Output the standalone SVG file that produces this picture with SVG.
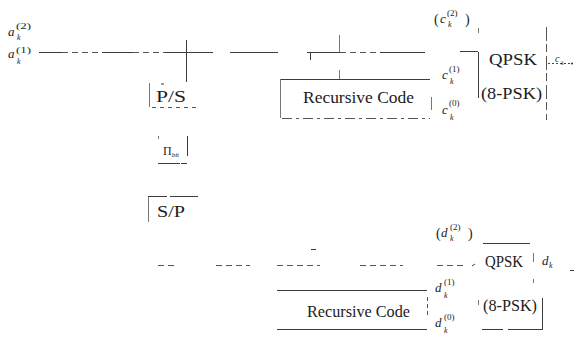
<svg xmlns="http://www.w3.org/2000/svg" width="576" height="340" viewBox="0 0 576 340">
<style>
.ln{stroke:#3c3c3c;stroke-width:1;fill:none}
.lt{stroke:#777;stroke-width:1;fill:none}
.dsh{stroke:#555;stroke-width:1;fill:none;stroke-dasharray:6 4}
.dot{stroke:#444;stroke-width:1;fill:none;stroke-dasharray:2 2}
text{font-family:'Liberation Serif','Times New Roman','DejaVu Serif',serif;fill:#1c1c1c}
.t{font-size:16px}
.m{font-style:italic;font-size:13px}
.s{font-size:9px}
.si{font-style:italic;font-size:8px}
.p{font-size:14px}
</style>

<g id="connectors">
  <path class="ln" d="M39 52.5H62M102 52.5H133M165 52.5H213M230 52.5H278M307 52.5H340M380 52.5H425"/>
  <path class="dsh" d="M62 52.5H100M133 52.5H165M340 52.5H380"/>
  <path class="ln" d="M186.5 40V82"/>
  <path class="ln" d="M310.5 52V60"/>
  <path class="lt" d="M339.5 35V52M339.5 70V79"/>
  <path class="ln" d="M460 51.5H478"/>
  <path class="dot" d="M548 63.5H571"/>
  <circle cx="572" cy="63.5" r="1" fill="#333"/>
  <path class="dsh" d="M158 265.5H178M216 265.5H250M277 265.5H320M360 265.5H403M437 265.5H463"/>
  <path class="ln" d="M311 249.5H316M472 266L475 264"/>
  <path class="ln" d="M570 270.5H574"/>
</g>

<g id="input-labels">
  <text class="m" x="8" y="36">a</text>
  <text class="s" x="16" y="29" textLength="15" lengthAdjust="spacingAndGlyphs">(2)</text>
  <text class="si" x="17" y="40">k</text>
  <text class="m" x="8" y="58">a</text>
  <text class="s" x="16" y="53" textLength="15" lengthAdjust="spacingAndGlyphs">(1)</text>
  <text class="si" x="17" y="64">k</text>
</g>

<g id="ps">
  <path class="lt" d="M149.5 83V107"/>
  <path class="ln" d="M161 84H164"/>
  <path class="dsh" d="M152 107.5H200" style="stroke-dasharray:4 4"/>
  <text class="t" x="156" y="102" textLength="30" lengthAdjust="spacingAndGlyphs">P/S</text>
</g>

<g id="interleaver">
  <path class="lt" d="M158.5 136V139"/>
  <path class="ln" d="M187.5 136V156"/>
  <path class="ln" d="M158 163.5H180M181 163.5H187"/>
  <text class="p" x="163" y="155" style="font-size:12px">Π<tspan class="si" dy="2" style="font-size:7px">bit</tspan></text>
</g>

<g id="sp">
  <path class="ln" d="M148 196.5H167M170 196.5H198"/>
  <path class="lt" d="M148.5 197V222"/>
  <text class="t" x="157" y="217" textLength="28" lengthAdjust="spacingAndGlyphs">S/P</text>
</g>

<g id="recursive-code-1">
  <path class="ln" d="M280 79.5H430"/>
  <path class="lt" d="M280.5 79V118"/>
  <path class="dsh" d="M282 118.5H430" style="stroke-dasharray:10 4 3 4"/>
  <path class="lt" d="M431.5 97V110"/>
  <text class="t" x="303" y="103" textLength="111" lengthAdjust="spacingAndGlyphs">Recursive Code</text>
</g>

<g id="c-labels">
  <text class="p" x="434" y="24">(</text>
  <text class="m" x="440" y="23">c</text>
  <text class="s" x="447" y="16">(2)</text>
  <text class="si" x="448" y="27">k</text>
  <text class="p" x="465" y="24">)</text>
  <text class="m" x="442" y="79">c</text>
  <text class="s" x="449" y="72">(1)</text>
  <text class="si" x="450" y="84">k</text>
  <text class="m" x="442" y="114">c</text>
  <text class="s" x="449" y="106">(0)</text>
  <text class="si" x="450" y="120">k</text>
  <text class="m" x="555" y="62" style="font-size:10px">c</text>
  <text class="si" x="561" y="65" style="font-size:6px">k</text>
</g>

<g id="qpsk-1">
  <path class="lt" d="M478.5 28V33"/>
  <path class="ln" d="M478.5 52V98"/>
  <path class="dsh" d="M546.5 27V120" style="stroke-dasharray:14 3 8 4"/>
  <text class="t" x="489" y="65" textLength="48" lengthAdjust="spacingAndGlyphs">QPSK</text>
  <text class="t" x="481" y="99" textLength="61" lengthAdjust="spacingAndGlyphs">(8-PSK)</text>
</g>

<g id="recursive-code-2">
  <path class="ln" d="M277 290.5H427"/>
  <path class="ln" d="M277 329.5H427"/>
  <path class="dsh" d="M427.5 297V317" style="stroke-dasharray:4 3"/>
  <text class="t" x="307" y="317" textLength="103" lengthAdjust="spacingAndGlyphs">Recursive Code</text>
</g>

<g id="d-labels">
  <text class="p" x="436" y="238">(</text>
  <text class="m" x="441" y="237">d</text>
  <text class="s" x="450" y="230">(2)</text>
  <text class="si" x="450" y="241">k</text>
  <text class="p" x="468" y="238">)</text>
  <text class="m" x="435" y="292">d</text>
  <text class="s" x="444" y="285">(1)</text>
  <text class="si" x="444" y="298">k</text>
  <text class="m" x="435" y="327">d</text>
  <text class="s" x="444" y="320">(0)</text>
  <text class="si" x="444" y="333">k</text>
  <text class="m" x="542" y="265">d</text>
  <text class="si" x="549" y="268">k</text>
</g>

<g id="qpsk-2">
  <path class="ln" d="M483 243.5H530"/>
  <path class="lt" d="M533.5 253V262M533.5 279V283M478.5 300V305"/>
  <path class="ln" d="M542.5 298V330"/>
  <path class="ln" d="M482 329.5H503M508 329.5H542"/>
  <text class="t" x="485" y="267" textLength="38" lengthAdjust="spacingAndGlyphs">QPSK</text>
  <text class="t" x="483" y="311" textLength="54" lengthAdjust="spacingAndGlyphs">(8-PSK)</text>
</g>
</svg>
